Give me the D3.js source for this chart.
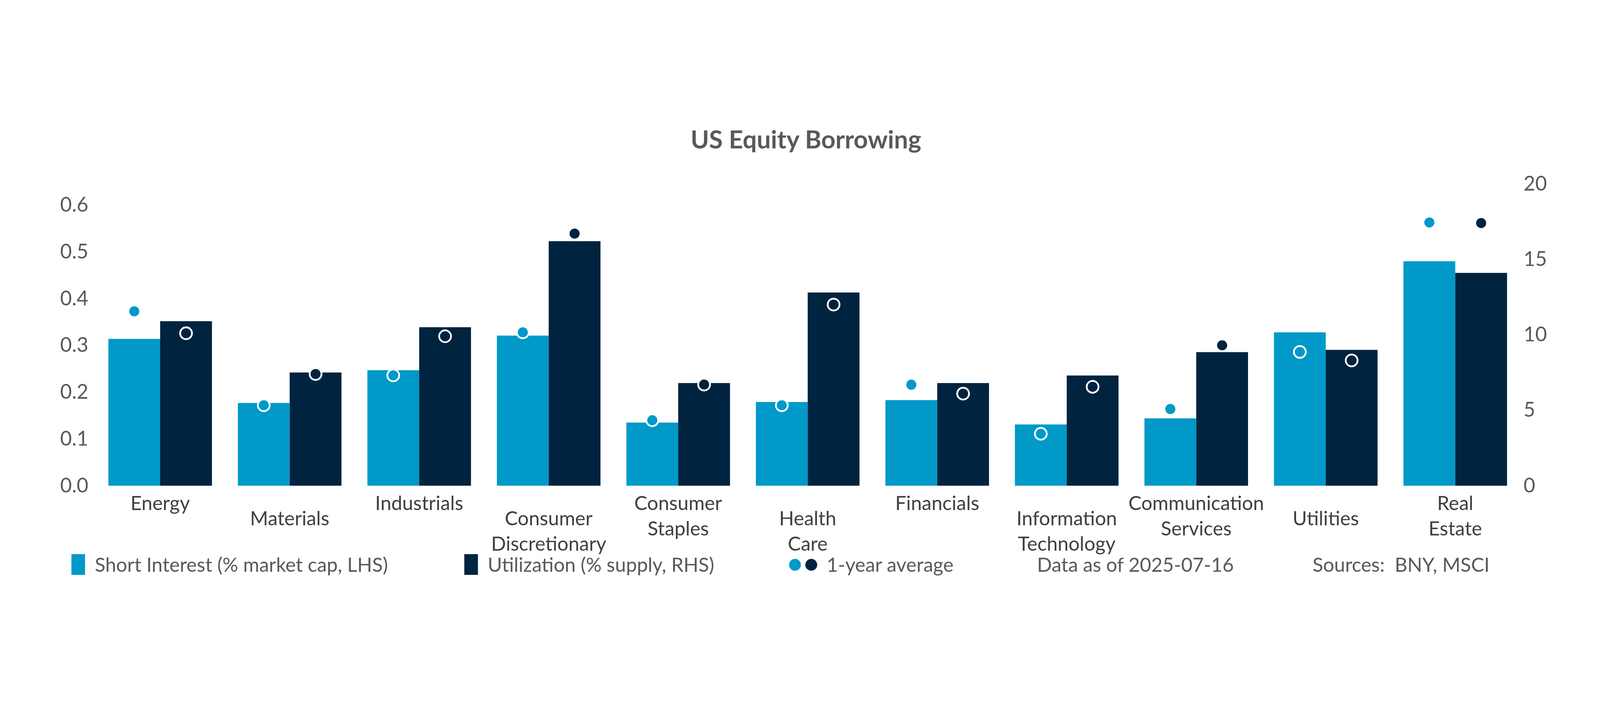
<!DOCTYPE html>
<html>
<head>
<meta charset="utf-8">
<script src="https://cdn.jsdelivr.net/npm/d3@7"></script>
<style>
  html, body { margin: 0; padding: 0; background: #fff; overflow: hidden; }
  svg { display: block; }
  text { font-family: Lato, "Noto Sans", sans-serif; }
</style>
</head>
<body>
<div id="chart"></div>
<script>
const categories = [
    ["Energy"], ["Materials"], ["Industrials"], ["Consumer", "Discretionary"],
    ["Consumer", "Staples"], ["Health", "Care"], ["Financials"],
    ["Information", "Technology"], ["Communication", "Services"], ["Utilities"], ["Real", "Estate"]
];
const shortInterest = [0.314, 0.177, 0.247, 0.321, 0.135, 0.179, 0.183, 0.131, 0.144, 0.328, 0.480];
const utilization   = [10.9, 7.5, 10.5, 16.2, 6.8, 12.8, 6.8, 7.3, 8.85, 9.0, 14.1];
const shortAvg      = [0.373, 0.172, 0.236, 0.328, 0.140, 0.172, 0.216, 0.111, 0.164, 0.286, 0.563];
const utilAvg       = [10.1, 7.4, 9.9, 16.7, 6.7, 12.0, 6.1, 6.55, 9.3, 8.3, 17.4];
const leftTicks = [0, 0.1, 0.2, 0.3, 0.4, 0.5, 0.6];
const rightTicks = [0, 5, 10, 15, 20];

const W = 5400, H = 1800;
const light = '#0099c8', dark = '#00233f', grey = '#595959';

// scale to the window, whatever its real size
const svg = d3.select('#chart').append('svg')
    .attr('viewBox', `0 0 ${W} ${H}`)
    .style('width', '100vw').style('height', '100vh');

svg.append('text')
    .attr('x', 2720).attr('y', 215)
    .attr('text-anchor', 'middle')
    .attr('font-size', 84).attr('font-weight', 'bold')
    .attr('fill', grey)
    .text('US Equity Borrowing');

const idx = categories.map((d, i) => i);
const x = d3.scaleBand().domain(idx).range([322, 5130]).paddingInner(0.2).paddingOuter(0.1);
const xi = d3.scaleBand().domain([0, 1]).range([0, x.bandwidth()]);
const yL = d3.scaleLinear().domain([0, 0.6]).range([1353, 406]);
const yR = d3.scaleLinear().domain([0, 20]).range([1353, 334]);

const axL = svg.append('g').attr('transform', 'translate(298,0)')
    .call(d3.axisLeft(yL).tickValues(leftTicks).tickFormat(d3.format('.1f')).tickSize(0).tickPadding(0));
const axR = svg.append('g').attr('transform', 'translate(5142,0)')
    .call(d3.axisRight(yR).tickValues(rightTicks).tickSize(0).tickPadding(0));
[axL, axR].forEach(a => {
    a.select('.domain').remove();
    a.selectAll('text').attr('font-size', 68).attr('fill', grey)
        .style('font-family', 'Lato, "Noto Sans", sans-serif');
});

const g = svg.append('g');
g.selectAll('.si').data(shortInterest).enter().append('rect')
    .attr('x', (d, i) => x(i) + xi(0)).attr('width', xi.bandwidth())
    .attr('y', d => yL(d)).attr('height', d => yL(0) - yL(d))
    .attr('fill', light);
g.selectAll('.ut').data(utilization).enter().append('rect')
    .attr('x', (d, i) => x(i) + xi(1)).attr('width', xi.bandwidth())
    .attr('y', d => yR(d)).attr('height', d => yR(0) - yR(d))
    .attr('fill', dark);

g.selectAll('.sa').data(shortAvg).enter().append('circle')
    .attr('cx', (d, i) => x(i) + xi(0) + xi.bandwidth() / 2)
    .attr('cy', d => yL(d)).attr('r', 20)
    .attr('fill', light).attr('stroke', '#fff').attr('stroke-width', 6);
g.selectAll('.ua').data(utilAvg).enter().append('circle')
    .attr('cx', (d, i) => x(i) + xi(1) + xi.bandwidth() / 2)
    .attr('cy', d => yR(d)).attr('r', 20)
    .attr('fill', dark).attr('stroke', '#fff').attr('stroke-width', 6);

// category labels, every other one staggered down
const lab = svg.append('g').selectAll('text').data(categories).enter().append('text')
    .attr('text-anchor', 'middle')
    .attr('font-size', 66).attr('fill', '#404040')
    .attr('transform', (d, i) => `translate(${x(i) + x.bandwidth() / 2},${1435 + (i % 2) * 52})`);
lab.selectAll('tspan').data(d => d).enter().append('tspan')
    .attr('x', 0).attr('dy', (d, j) => j ? 86 : 0).text(d => d);

// legend
const ly = 1620;
const leg = svg.append('g').attr('font-size', 66).attr('fill', grey);
leg.append('rect').attr('x', 241).attr('y', ly - 36).attr('width', 46).attr('height', 70).attr('fill', light);
leg.append('text').attr('x', 320).attr('y', ly + 23).text('Short Interest (% market cap, LHS)');
leg.append('rect').attr('x', 1567).attr('y', ly - 36).attr('width', 46).attr('height', 70).attr('fill', dark);
leg.append('text').attr('x', 1646).attr('y', ly + 23).text('Utilization (% supply, RHS)');
leg.append('circle').attr('cx', 2683).attr('cy', ly).attr('r', 20).attr('fill', light);
leg.append('circle').attr('cx', 2738).attr('cy', ly).attr('r', 20).attr('fill', dark);
leg.append('text').attr('x', 2790).attr('y', ly + 23).text('1-year average');
leg.append('text').attr('x', 3500).attr('y', ly + 23).text('Data as of 2025-07-16');
leg.append('text').attr('x', 4430).attr('y', ly + 23).attr('xml:space', 'preserve').text('Sources:  BNY, MSCI');
</script>
</body>
</html>
